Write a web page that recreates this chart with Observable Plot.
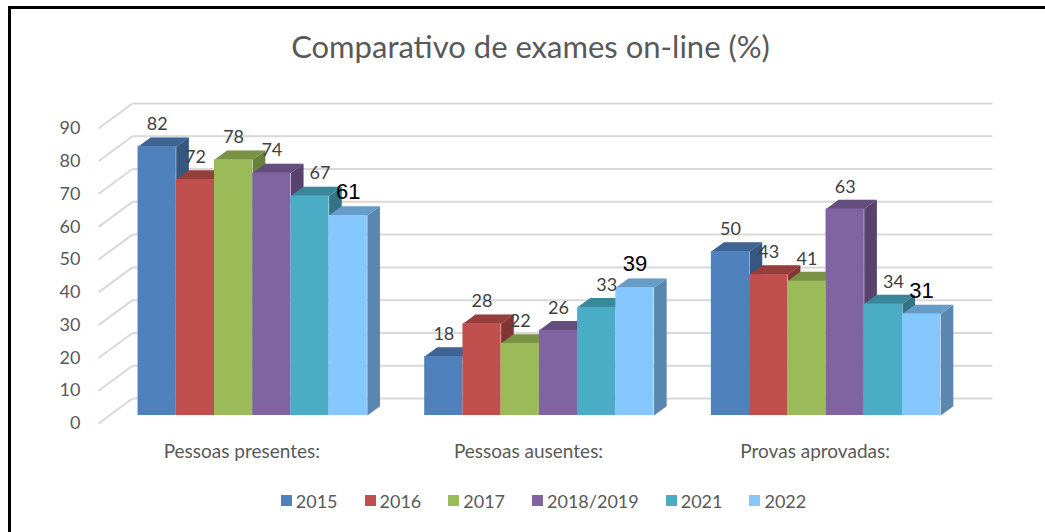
<!DOCTYPE html>
<html>
<head>
<meta charset="utf-8">
<script src="https://cdn.jsdelivr.net/npm/d3@7"></script>
<script src="https://cdn.jsdelivr.net/npm/@observablehq/plot@0.6"></script>
<style>
  body { margin: 0; background: #fff; }
  #wrap { position: relative; width: 1045px; height: 532px; overflow: hidden; background: #fff; font-family: Lato, sans-serif; }
  #frame { position: absolute; left: 8px; top: 6px; width: 1200px; height: 700px; border: 3px solid #000; box-sizing: border-box; }
  #title { position: absolute; left: 0; width: 1061px; top: 31px; text-align: center; font-size: 31px; line-height: 1; color: #595959; white-space: nowrap; }
  #chart { position: absolute; left: 0; top: 80px; }
  #legend { position: absolute; left: 0; width: 1087px; top: 484px; }
  .lg-swatches { font-family: Lato, sans-serif; font-size: 18px; color: #595959; justify-content: center; margin: 0; }
  .lg-swatches .lg-swatch { margin-right: 27px; }
  .lg-swatches .lg-swatch:last-child { margin-right: 0; }
  .lg-swatches .lg-swatch > svg { margin-right: 4px; }
</style>
</head>
<body>
<div id="wrap">
  <div id="frame"></div>
  <div id="title">Comparativo de exames on-line (%)</div>
  <div id="chart"></div>
  <div id="legend"></div>
</div>
<script>
// ---- data ----
const categories = ["Pessoas presentes:", "Pessoas ausentes:", "Provas aprovadas:"];
const series = ["2015", "2016", "2017", "2018/2019", "2021", "2022"];
const v2015 = [82, 18, 50];
const v2016 = [72, 28, 43];
const v2017 = [78, 22, 41];
const v2018_2019 = [74, 26, 63];
const v2021 = [67, 33, 34];
const v2022 = [61, 39, 31];
const colors = ["#4F81BD", "#C0504D", "#9BBB59", "#8064A2", "#4BACC6", "#85C8FF"];
const yTicks = [0, 10, 20, 30, 40, 50, 60, 70, 80, 90];

const seriesValues = [v2015, v2016, v2017, v2018_2019, v2021, v2022];

// ---- layout ----
const W = 1045, H = 400;
const xL = 98, xR = 958;        // front floor, pixels
const yZero = 343, yTop = 48;   // front plane: 0 and 90
const band = 7.5, pad = 0.75;   // category band in bar-width units
const xMax = band * categories.length;
const pxPerX = (xR - xL) / xMax;
const pxPerY = (yZero - yTop) / 90;
const DX = 34 / pxPerX;         // full floor depth in x units
const DY = 25 / pxPerY;         // full floor depth in y units
const d0 = 0.32, d1 = 0.69;     // bar depth span
const bdx = (d1 - d0) * DX, bdy = (d1 - d0) * DY;

const bars = [];
categories.forEach((cat, i) => {
  series.forEach((s, j) => {
    const x1 = band * i + pad + j + d0 * DX;
    const yb = d0 * DY;
    bars.push({cat, series: s, value: seriesValues[j][i], j, id: `${i}-${j}`, x1, x2: x1 + 1, yb, yt: seriesValues[j][i] + yb});
  });
});

const tops = bars.flatMap(b => [
  {id: b.id, series: b.series, x: b.x1, y: b.yt},
  {id: b.id, series: b.series, x: b.x2, y: b.yt},
  {id: b.id, series: b.series, x: b.x2 + bdx, y: b.yt + bdy},
  {id: b.id, series: b.series, x: b.x1 + bdx, y: b.yt + bdy}
]);
const sides = bars.flatMap(b => [
  {id: b.id, series: b.series, x: b.x2, y: b.yb},
  {id: b.id, series: b.series, x: b.x2, y: b.yt},
  {id: b.id, series: b.series, x: b.x2 + bdx, y: b.yt + bdy},
  {id: b.id, series: b.series, x: b.x2 + bdx, y: b.yb + bdy}
]);

const grid = "#d9d9d9";
const labelX = b => (b.x1 + b.x2) / 2;
const labelY = b => b.yt + bdy;
const chart = Plot.plot({
  width: W,
  height: H,
  marginLeft: xL,
  marginRight: W - xR,
  marginTop: yTop,
  marginBottom: H - yZero,
  style: {background: "transparent", fontFamily: "Lato, sans-serif", overflow: "visible"},
  x: {domain: [0, xMax], axis: null},
  y: {domain: [0, 90], axis: null},
  color: {domain: series, range: colors},
  marks: [
    // back wall gridlines
    Plot.link(yTicks, {x1: () => DX, x2: () => xMax + DX, y1: t => t + DY, y2: t => t + DY, stroke: grid, strokeWidth: 2}),
    // side wall diagonals
    Plot.link(yTicks, {x1: () => 0, x2: () => DX, y1: t => t, y2: t => t + DY, stroke: grid, strokeWidth: 2}),
    Plot.axisY({ticks: yTicks, tickSize: 0, tickPadding: 18, label: null, fontSize: 18, color: "#595959"}),
    // side faces
    Plot.line(sides, {x: "x", y: "y", z: "id", fill: "series", stroke: null, curve: "linear-closed"}),
    Plot.line(sides, {x: "x", y: "y", z: "id", fill: "black", fillOpacity: 0.32, stroke: null, curve: "linear-closed"}),
    // top faces
    Plot.line(tops, {x: "x", y: "y", z: "id", fill: "series", stroke: null, curve: "linear-closed"}),
    Plot.line(tops, {x: "x", y: "y", z: "id", fill: "black", fillOpacity: 0.22, stroke: null, curve: "linear-closed"}),
    // front faces
    Plot.rect(bars, {x1: "x1", x2: "x2", y1: "yb", y2: "yt", fill: "series"}),
    // value labels
    Plot.text(bars.filter(b => b.series !== "2021" && b.series !== "2022"), {
      x: labelX, y: labelY, text: b => String(b.value), dy: -13, fontSize: 18, fill: "#404040"
    }),
    Plot.text(bars.filter(b => b.series === "2021"), {
      x: labelX, y: labelY, text: b => String(b.value), dx: 10, dy: -13, fontSize: 18, fill: "#404040"
    }),
    Plot.text(bars.filter(b => b.series === "2022"), {
      x: labelX, y: labelY, text: b => String(b.value), dy: -14, fontSize: 22, fill: "#000",
      fontFamily: "Liberation Sans, Arial, sans-serif"
    }),
    // category labels
    Plot.text(categories, {x: (d, i) => band * i + band / 2, y: () => 0, dy: 28, text: d => d, fontSize: 19, fill: "#595959"})
  ]
});
document.getElementById("chart").appendChild(chart);
const legend = chart.legend("color", {swatchSize: 11, className: "lg"});
document.getElementById("legend").appendChild(legend);
</script>
</body>
</html>
